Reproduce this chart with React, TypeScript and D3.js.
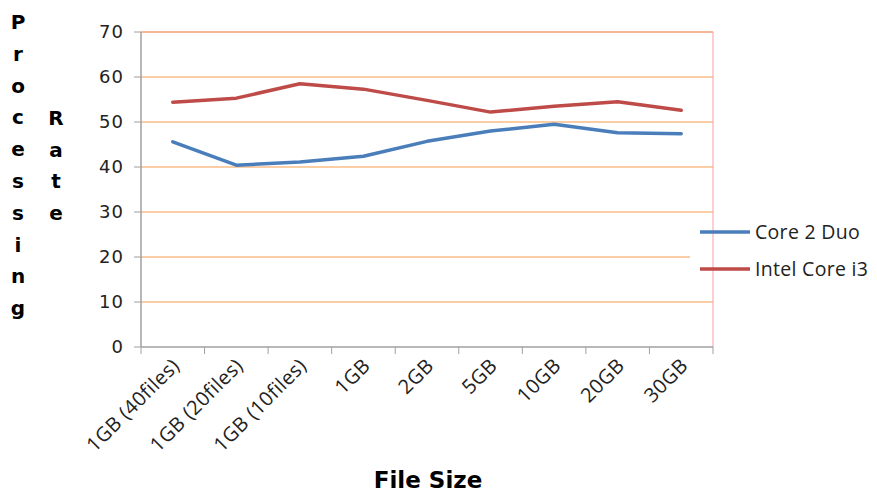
import React from "react";
import * as d3 from "d3";

const categories = ["1GB (40files)", "1GB (20files)", "1GB (10files)", "1GB", "2GB", "5GB", "10GB", "20GB", "30GB"];
const core2Duo = [45.6, 40.4, 41.1, 42.4, 45.7, 48.0, 49.5, 47.6, 47.4];
const intelI3 = [54.4, 55.3, 58.5, 57.3, 54.8, 52.2, 53.5, 54.5, 52.6];
const yTicks = [0, 10, 20, 30, 40, 50, 60, 70];
const seriesNames = ["Core 2 Duo", "Intel Core i3"];
const seriesColors = ["#4A7EBB", "#BE4B48"];
const yTitle1 = "Processing";
const yTitle2 = "Rate";
const xTitle = "File Size";

export default function App() {
  const W = 877, H = 495;
  const left = 141, right = 713, top = 32, bottom = 347;
  const x = d3.scaleBand<string>().domain(categories).range([left, right]);
  const y = d3.scaleLinear().domain([0, 70]).range([bottom, top]);
  const line = d3.line<number>()
    .x((_, i) => (x(categories[i]) as number) + x.bandwidth() / 2)
    .y((d) => y(d));
  const series = [core2Duo, intelI3];
  const boundaries = d3.range(categories.length + 1).map((i) => left + i * x.step());

  return (
    <svg width={W} height={H} style={{ position: "absolute", left: 0, top: 0 }}>
      <rect width={W} height={H} fill="#fff" />
      {yTicks.filter((t) => t > 0).map((t) => (
        <line key={t} x1={left} x2={right} y1={y(t)} y2={y(t)} stroke={t === 70 ? "#F5A078" : "#F8BC86"} strokeWidth={1.5} />
      ))}
      <rect x={690} y={218} width={187} height={70} fill="#fff" />
      <line x1={right} x2={right} y1={top} y2={bottom} stroke="#F4A0A8" strokeWidth={1} />
      <line x1={left} x2={left} y1={top} y2={bottom} stroke="#A0A0A0" strokeWidth={1.5} />
      <line x1={left} x2={right} y1={bottom} y2={bottom} stroke="#A0A0A0" strokeWidth={1.5} />
      {yTicks.map((t) => (
        <g key={t}>
          <line x1={left - 7} x2={left} y1={y(t)} y2={y(t)} stroke="#A0A0A0" strokeWidth={1} />
          <text x={left - 17} y={y(t)} dy="0.35em" textAnchor="end" fontFamily="DejaVu Sans, sans-serif" fontSize={18} letterSpacing={1} fill="#222">{t}</text>
        </g>
      ))}
      {boundaries.map((b, i) => (
        <line key={i} x1={b} x2={b} y1={bottom} y2={bottom + 7} stroke="#A0A0A0" strokeWidth={1} />
      ))}
      {categories.map((c) => {
        const cx = (x(c) as number) + x.bandwidth() / 2 + 3;
        const cy = bottom + 15;
        return (
          <text key={c} transform={`translate(${cx},${cy}) rotate(-45)`} textAnchor="end" dy="0.35em" fontFamily="Open Sans, sans-serif" fontSize={20} letterSpacing={0.4} fill="#222">{c}</text>
        );
      })}
      {series.map((s, i) => (
        <path key={i} d={line(s) as string} fill="none" stroke={seriesColors[i]} strokeWidth={3.5} strokeLinejoin="round" strokeLinecap="round" />
      ))}
      {seriesNames.map((n, i) => (
        <g key={n}>
          <line x1={700} x2={750} y1={232 + i * 37} y2={232 + i * 37} stroke={seriesColors[i]} strokeWidth={3.5} />
          <text x={755} y={232 + i * 37} dy="0.35em" fontFamily="Open Sans, sans-serif" fontSize={19.5} letterSpacing={0.3} fill="#222">{n}</text>
        </g>
      ))}
      {yTitle1.split("").map((ch, i) => (
        <text key={"a" + i} x={18} y={22 + i * 31.8} dy="0.35em" textAnchor="middle" fontFamily="DejaVu Sans, sans-serif" fontWeight={900} fontSize={20} fill="#000">{ch}</text>
      ))}
      {yTitle2.split("").map((ch, i) => (
        <text key={"b" + i} x={56} y={118 + i * 31.5} dy="0.35em" textAnchor="middle" fontFamily="DejaVu Sans, sans-serif" fontWeight={900} fontSize={20} fill="#000">{ch}</text>
      ))}
      <text x={428} y={488} textAnchor="middle" fontFamily="DejaVu Sans, sans-serif" fontWeight={900} fontSize={23} fill="#000">{xTitle}</text>
    </svg>
  );
}
